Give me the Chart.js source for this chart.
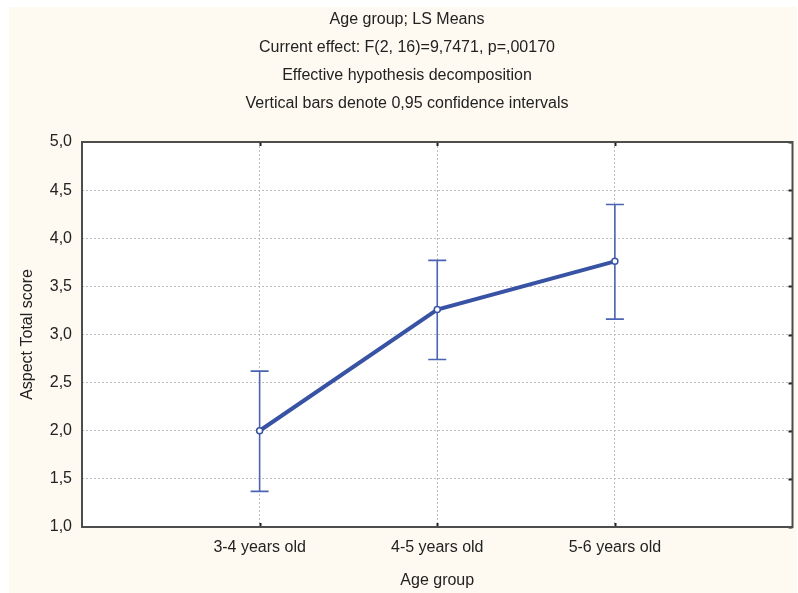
<!DOCTYPE html>
<html>
<head>
<meta charset="utf-8">
<script src="https://cdn.jsdelivr.net/npm/chart.js@4/dist/chart.umd.min.js"></script>
<style>
html,body{margin:0;padding:0;background:#fff;}
#wrap{position:absolute;left:0;top:0;width:798px;height:593px;}
</style>
</head>
<body>
<div id="wrap"><canvas id="c" width="798" height="593"></canvas></div>
<script>
const titleLines = [
  'Age group; LS Means',
  'Current effect: F(2, 16)=9,7471, p=,00170',
  'Effective hypothesis decomposition',
  'Vertical bars denote 0,95 confidence intervals'
];
const categories = ['3-4 years old', '4-5 years old', '5-6 years old'];
const means = [2.0, 3.26, 3.76];
const lower = [1.37, 2.74, 3.16];
const upper = [2.62, 3.77, 4.35];
const yTickValues = [1.0, 1.5, 2.0, 2.5, 3.0, 3.5, 4.0, 4.5, 5.0];
const yTickLabels = ['1,0', '1,5', '2,0', '2,5', '3,0', '3,5', '4,0', '4,5', '5,0'];
const xTitle = 'Age group';
const yTitle = 'Aspect Total score';

const FONT = '"Liberation Sans", Arial, sans-serif';
const FS = 16;
const BLUE = '#3953a4';
const EBLUE = '#4a63b3';

const bgPlugin = {
  id: 'bg',
  beforeDraw(chart) {
    const {ctx, chartArea: a} = chart;
    ctx.save();
    ctx.fillStyle = '#ffffff';
    ctx.fillRect(0, 0, chart.width, chart.height);
    ctx.fillStyle = '#fefaf1';
    ctx.fillRect(9, 7, 788, 586);
    ctx.fillStyle = '#ffffff';
    ctx.fillRect(a.left, a.top, a.right - a.left, a.bottom - a.top);
    ctx.restore();
  }
};

const errPlugin = {
  id: 'err',
  beforeDatasetsDraw(chart) {
    const {ctx} = chart;
    const xs = chart.scales.x, ys = chart.scales.y;
    ctx.save();
    ctx.strokeStyle = EBLUE;
    ctx.lineWidth = 1.6;
    for (let i = 0; i < means.length; i++) {
      const x = xs.getPixelForValue(i + 1);
      const yl = ys.getPixelForValue(lower[i]);
      const yu = ys.getPixelForValue(upper[i]);
      ctx.beginPath();
      ctx.moveTo(x, yl); ctx.lineTo(x, yu);
      ctx.moveTo(x - 9, yl); ctx.lineTo(x + 9, yl);
      ctx.moveTo(x - 9, yu); ctx.lineTo(x + 9, yu);
      ctx.stroke();
    }
    ctx.restore();
  }
};

const framePlugin = {
  id: 'frame',
  afterDraw(chart) {
    const {ctx, chartArea: a} = chart;
    const xs = chart.scales.x, ys = chart.scales.y;
    ctx.save();
    ctx.strokeStyle = '#222';
    ctx.lineWidth = 2;
    xs.ticks.forEach(t => {
      const x = Math.round(xs.getPixelForValue(t.value)) + 0.5;
      ctx.beginPath();
      ctx.moveTo(x, a.bottom); ctx.lineTo(x, a.bottom - 4);
      ctx.moveTo(x, a.top); ctx.lineTo(x, a.top + 4);
      ctx.stroke();
    });
    ys.ticks.forEach(t => {
      const y = Math.round(ys.getPixelForValue(t.value)) + 0.5;
      ctx.beginPath();
      ctx.moveTo(a.right, y); ctx.lineTo(a.right - 4, y);
      ctx.stroke();
    });
    ctx.strokeStyle = '#4d4d4d';
    ctx.lineWidth = 2;
    ctx.strokeRect(a.left, a.top, a.right - a.left, a.bottom - a.top);
    ctx.restore();
  }
};

new Chart(document.getElementById('c'), {
  type: 'line',
  data: {
    datasets: [{
      data: means.map((m, i) => ({x: i + 1, y: m})),
      borderColor: BLUE,
      borderWidth: 4,
      pointRadius: 3,
      pointBackgroundColor: '#ffffff',
      pointBorderColor: BLUE,
      pointBorderWidth: 1.5,
      tension: 0,
      fill: false
    }]
  },
  options: {
    responsive: false,
    animation: false,
    layout: {padding: {left: 20, right: 4, top: 0, bottom: 0}},
    plugins: {
      legend: {display: false},
      tooltip: {enabled: false},
      title: {
        display: true,
        text: titleLines,
        color: '#222',
        font: {family: FONT, size: FS, weight: 'normal', lineHeight: '28px'},
        padding: {top: 6, bottom: 24}
      }
    },
    scales: {
      x: {
        type: 'linear',
        min: 0,
        max: categories.length + 1,
        afterBuildTicks(axis) { axis.ticks = categories.map((c, i) => ({value: i + 1})); },
        afterFit(axis) { axis.height = 66; },
        ticks: {
          color: '#222',
          font: {family: FONT, size: FS},
          padding: 11,
          autoSkip: false,
          maxRotation: 0,
          callback: (v) => categories[v - 1] || ''
        },
        grid: {color: '#bcbcbc', lineWidth: 1, drawTicks: false},
        border: {display: false, dash: [2, 2]},
        title: {
          display: true, text: xTitle, color: '#222',
          font: {family: FONT, size: FS}, padding: {top: 0, bottom: 3}
        }
      },
      y: {
        type: 'linear',
        min: 1,
        max: 5,
        afterBuildTicks(axis) { axis.ticks = yTickValues.map(v => ({value: v})); },
        afterFit(axis) { axis.width = 62; },
        ticks: {
          color: '#222',
          font: {family: FONT, size: FS},
          padding: 10,
          callback: (v) => yTickLabels[yTickValues.indexOf(v)] ?? ''
        },
        grid: {color: '#bcbcbc', lineWidth: 1, drawTicks: false},
        border: {display: false, dash: [2, 2]},
        title: {
          display: true, text: yTitle, color: '#222',
          font: {family: FONT, size: FS, lineHeight: 1}, padding: {top: 0, bottom: 0}
        }
      }
    }
  },
  plugins: [bgPlugin, errPlugin, framePlugin]
});
</script>
</body>
</html>
